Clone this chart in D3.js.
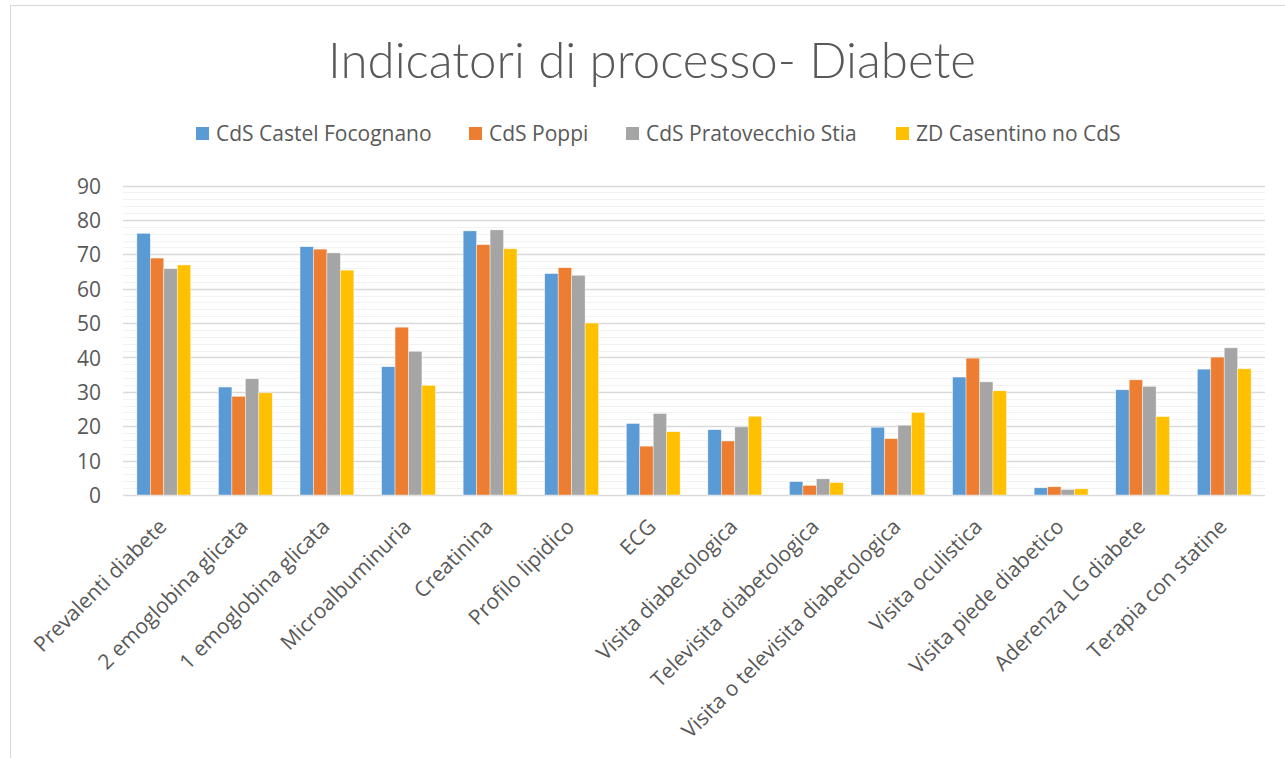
<!DOCTYPE html>
<html>
<head>
<meta charset="utf-8">
<script src="https://cdn.jsdelivr.net/npm/d3@7"></script>
<style>
  html, body { margin: 0; padding: 0; background: #fff; }
  svg { display: block; }
  text { font-family: "Open Sans", Lato, sans-serif; fill: #595959; }
</style>
</head>
<body>
<svg id="chart" width="1285" height="758"></svg>
<script>
const categories = [
  "Prevalenti diabete", "2 emoglobina glicata", "1 emoglobina glicata", "Microalbuminuria",
  "Creatinina", "Profilo lipidico", "ECG", "Visita diabetologica",
  "Televisita diabetologica", "Visita o televisita diabetologica", "Visita oculistica",
  "Visita piede diabetico", "Aderenza LG diabete", "Terapia con statine"
];
const seriesNames = ["CdS Castel Focognano", "CdS Poppi", "CdS Pratovecchio Stia", "ZD Casentino no CdS"];
const castelFocognano = [76.1, 31.4, 72.2, 37.3, 76.8, 64.4, 20.8, 19.0, 3.9, 19.7, 34.3, 2.1, 30.6, 36.6];
const poppi           = [68.9, 28.7, 71.5, 48.8, 72.8, 66.1, 14.2, 15.7, 2.8, 16.4, 39.8, 2.4, 33.5, 40.1];
const pratovecchio    = [65.8, 33.8, 70.4, 41.8, 77.1, 63.9, 23.7, 19.8, 4.7, 20.3, 32.9, 1.6, 31.6, 42.8];
const casentino       = [66.9, 29.7, 65.4, 31.9, 71.6, 50.0, 18.4, 22.9, 3.6, 24.0, 30.3, 1.8, 22.8, 36.7];
const colors = ["#5b9bd5", "#ed7d31", "#a5a5a5", "#ffc000"];
const yTicks = [0, 10, 20, 30, 40, 50, 60, 70, 80, 90];
const title = "Indicatori di processo- Diabete";

const seriesValues = [castelFocognano, poppi, pratovecchio, casentino];
const FONT = "'Open Sans', Lato, sans-serif";
const FS = 21;

const svg = d3.select("#chart");

// outer frame
svg.append("path")
  .attr("d", "M10.5,758 L10.5,5.5 L1285,5.5")
  .attr("fill", "none").attr("stroke", "#d9d9d9").attr("stroke-width", 1);

const plot = { left: 123, right: 1265, top: 185.5, bottom: 495 };

const x0 = d3.scaleBand().domain(categories).range([plot.left, plot.right])
  .paddingInner(0.34).paddingOuter(0.17);
const x1 = d3.scaleBand().domain(seriesNames).range([0, x0.bandwidth()]);
const y = d3.scaleLinear().domain([0, 90]).range([plot.bottom, plot.top]);

// minor gridlines
const minor = d3.range(0, 91, 2).filter(v => v % 10 !== 0);
svg.append("g").selectAll("line").data(minor).join("line")
  .attr("x1", plot.left).attr("x2", plot.right)
  .attr("y1", d => Math.round(y(d)) + 0.5).attr("y2", d => Math.round(y(d)) + 0.5)
  .attr("stroke", "#f2f2f2").attr("stroke-width", 1.2);

// major gridlines
svg.append("g").selectAll("line").data(yTicks).join("line")
  .attr("x1", plot.left).attr("x2", plot.right)
  .attr("y1", d => Math.round(y(d)) + 0.5).attr("y2", d => Math.round(y(d)) + 0.5)
  .attr("stroke", "#d9d9d9").attr("stroke-width", 1.3);

// y axis labels
const yAxis = d3.axisLeft(y).tickValues(yTicks).tickSize(0).tickPadding(0);
const yG = svg.append("g").attr("transform", `translate(${101},0)`).call(yAxis);
yG.select(".domain").remove();
yG.selectAll("text").attr("font-size", FS).attr("fill", "#595959")
  .style("font-family", FONT).attr("dy", "0.36em");

// bars
const groups = svg.append("g").selectAll("g").data(categories).join("g")
  .attr("transform", d => `translate(${x0(d)},0)`);
groups.selectAll("rect")
  .data((c, i) => seriesNames.map((s, j) => ({ s, j, v: seriesValues[j][i] })))
  .join("rect")
  .attr("x", d => x1(d.s))
  .attr("width", x1.bandwidth())
  .attr("y", d => y(d.v))
  .attr("height", d => y(0) - y(d.v))
  .attr("fill", d => colors[d.j])
  .attr("stroke", "#fff").attr("stroke-width", 0.6).attr("stroke-opacity", 0.7);

// x axis labels
const xAxis = d3.axisBottom(x0).tickSize(0).tickPadding(0);
const xG = svg.append("g").attr("transform", `translate(0,${plot.bottom})`).call(xAxis);
xG.select(".domain").remove();
xG.selectAll("text")
  .attr("font-size", FS).attr("fill", "#595959")
  .style("font-family", FONT)
  .attr("text-anchor", "end")
  .attr("dy", null).attr("y", 0)
  .attr("transform", "translate(4,33) rotate(-45)");

// title
const t = svg.append("text").attr("x", 652).attr("y", 78)
  .attr("text-anchor", "middle").attr("font-size", 44)
  .style("font-family", "Lato, 'Open Sans', sans-serif")
  .attr("font-weight", 300).attr("fill", "#595959").text(title);
const tw = t.node().getComputedTextLength();
t.attr("font-size", 44 * 648 / tw);

// legend
const legendX = [196, 469, 626, 896];
const lg = svg.append("g").selectAll("g").data(seriesNames).join("g")
  .attr("transform", (d, i) => `translate(${legendX[i]},133.5)`);
lg.append("rect").attr("x", 0).attr("y", -6.5).attr("width", 13).attr("height", 13)
  .attr("fill", (d, i) => colors[i]);
lg.append("text").attr("x", 20).attr("y", 0).attr("dy", "0.36em")
  .attr("font-size", FS).attr("fill", "#595959").text(d => d);
</script>
</body>
</html>
